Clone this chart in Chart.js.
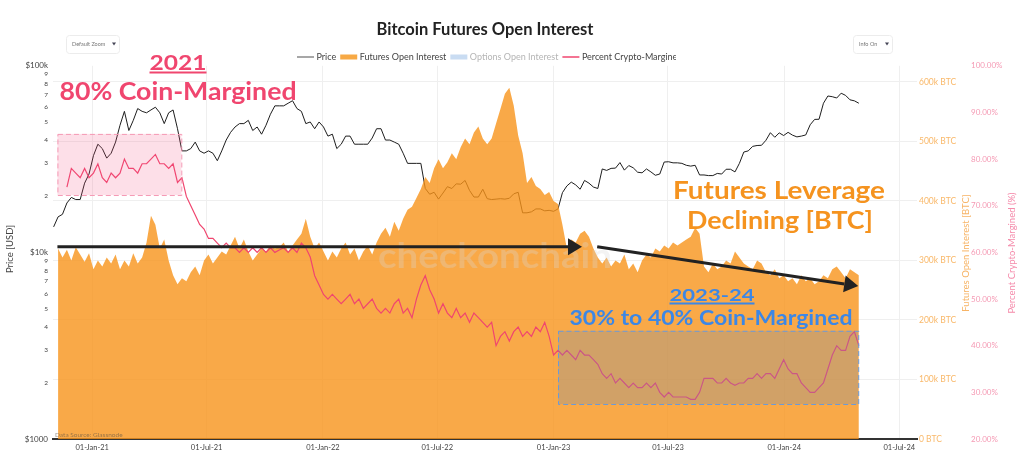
<!DOCTYPE html>
<html>
<head>
<meta charset="utf-8">
<title>Bitcoin Futures Open Interest</title>
<script src="https://cdn.jsdelivr.net/npm/chart.js@4.4.1/dist/chart.umd.min.js"></script>
<style>
  html, body { margin: 0; padding: 0; background: #fff; }
  #wrap { width: 1024px; height: 458px; }
</style>
</head>
<body>
<div id="wrap"><canvas id="chart" width="1024" height="458"></canvas></div>
<script>
// weekly samples, first one is 01-Nov-2020 (day -61 counted from 01-Jan-2021)
const START_DAY = -61;
const STEP_DAYS = 7;

// BTC price, thousands of USD
const priceKUsd = [
  13.7, 15.5, 16.0, 18.4, 19.7, 19.2, 19.2, 23.5, 26.3,
  33, 38, 36, 32, 34, 39, 48, 57, 45, 51, 59, 57, 56, 58, 60, 56, 49,
  56, 58, 46, 35, 35, 36, 39, 35, 34, 35, 34, 31, 35, 40, 44, 47, 49, 49,
  51, 45, 47, 43, 48, 55, 61, 61, 61, 63, 65, 59, 57, 49, 50, 46, 50,
  47, 42, 43, 36, 38, 42, 42, 38, 38, 38, 38, 41, 46, 46, 40, 40, 39,
  38, 34, 30, 30, 30, 30, 22, 20.5, 21, 19.3, 20.8, 22.5, 22, 23.3,
  23.2, 24.3, 21.5, 19.8, 19.8, 21.8, 19.4, 19.2, 19.3, 19.4, 19.3, 19.5, 20.6,
  21, 16.3, 16.3, 16.5, 17.1, 17.1, 16.7, 16.8,
  16.6, 17.1, 20.9, 22.7, 23.8, 23, 21.8, 24.3, 23.5, 22.4, 22, 28, 27.5,
  28.2, 28.3, 30.3, 27.6, 29.2, 28.4, 26.9, 26.7, 28, 27, 25.9, 26.3, 30.5,
  30.6, 30.2, 30.2, 30, 29.3, 29, 29.3, 26, 26, 25.8, 25.8, 26.5, 26.3,
  27.9, 27.9, 27, 30, 34.5, 35, 37, 37.4, 37.5, 39.9, 43.8, 41.4, 43.7, 42.3,
  44, 42.5, 41.6, 42, 42.6, 48.3, 51.6, 51.7, 63, 68.9, 68.3, 67.2, 71.3,
  69.4, 65.7, 64.9, 63
];

// futures open interest, thousands of BTC
const futuresOiKBtc = [
  null,
  320, 305, 318, 300, 322, 310, 298, 312, 285, 300,
  290, 305, 295, 310, 285, 300, 290, 312, 295, 305,
  330, 375, 360, 320, 335, 300, 275, 260, 270, 265,
  280, 290, 275, 300, 310, 295, 305, 315, 310, 325,
  340, 320, 335, 315, 300, 310, 320, 315, 325, 320,
  322,
  330, 315, 325, 335, 345, 370, 340, 320, 330, 315,
  300, 315, 305, 320, 330, 310, 320, 300, 315, 325,
  310, 330, 345, 355, 340, 365, 350, 370, 385, 390,
  405, 420, 440, 430, 455, 470, 455, 465, 480, 470,
  490, 505, 495, 515, 525, 505, 495, 505, 530, 555,
  580, 590, 560, 510, 480, 430, 440, 425, 420, 410,
  415, 400, 395, 360, 320, 335, 330, 345, 350, 340,
  320, 305, 295, 305, 290, 300, 295, 310, 285, 295,
  280, 300, 310, 305, 320, 315, 325, 320, 330, 325,
  330,
  335, 340, 355, 345, 290, 280, 295, 285, 290, 300,
  295, 315, 305, 295, 290, 285, 300, 295, 280, 275,
  285, 270, 275, 265, 270, 260, 275, 265, 270, 260,
  265, 275, 270, 285, 290, 280, 270, 285, 280, 275
];

// share of futures OI that is crypto-margined, %
const pctCryptoMargined = [
  null, null, null,
  74, 78, 77, 76, 78, 76, 77, 79,
  76, 75, 77, 76, 77, 80, 78, 78, 77, 79,
  79, 80, 81, 79, 79, 78, 79, 75, 76, 72,
  70, 68, 66, 65, 63, 63, 62, 61, 62, 61,
  61, 60, 61, 60, 61, 60, 61, 60, 61, 60,
  60.5,
  61, 60, 61, 60, 62, 61, 59, 55, 53, 51,
  50, 51, 50, 49, 50, 51, 49, 50, 48, 49,
  50, 48, 47, 48, 47, 49, 50, 47, 48, 46,
  50, 53, 55, 52, 50, 47, 49, 47, 46, 48,
  46, 47, 45, 47, 46, 45, 44, 45, 40, 42,
  43, 41, 43, 44, 42, 43, 42, 44, 43, 45,
  42, 38, 39, 38, 39, 38, 37, 39, 38, 38,
  37, 36, 34, 33, 34, 32, 33, 32, 31, 32,
  31, 31, 32, 31, 32, 30, 29, 30, 29, 29,
  29,
  29, 28.5, 28.5, 30, 33, 33, 33, 32, 32, 33,
  32, 31.5, 32, 32, 33, 33, 34, 33, 34, 34,
  33, 35, 37, 35, 34, 34, 32, 31, 30, 30,
  31, 32, 35, 38, 40, 39, 39, 42, 43, 40
];

const xTickDays = [0, 181, 365, 546, 730, 911, 1095, 1277];
const xTickLabels = ['01-Jan-21', '01-Jul-21', '01-Jan-22', '01-Jul-22', '01-Jan-23', '01-Jul-23', '01-Jan-24', '01-Jul-24'];
const priceTicks = [1000, 2000, 3000, 4000, 5000, 6000, 7000, 8000, 9000,
  10000, 20000, 30000, 40000, 50000, 60000, 70000, 80000, 90000, 100000];
const priceMajorLabels = { 1000: '$1000', 10000: '$10k', 100000: '$100k' };
const oiTicks = [0, 100, 200, 300, 400, 500, 600];
const pctTicks = [20, 30, 40, 50, 60, 70, 80, 90, 100];

const PINK = '#f0466f';
const FONT = 'Lato, "Open Sans", sans-serif';

// highlight boxes (x in days, y in % crypto-margined)
const boxes = [
  { x0: -55, x1: 141, y0: 72.3, y1: 85.4, fill: 'rgba(245,80,130,0.18)', stroke: '#f59ab5' },
  { x0: 737, x1: 1212, y0: 27.5, y1: 43.2, fill: 'rgba(90,140,200,0.25)', stroke: '#6b9ad8' }
];
// trend arrows (x in days, y in k BTC)
const arrows = [
  { x0: -55, y0: 323, x1: 775, y1: 323 },
  { x0: 799, y0: 323, x1: 1212, y1: 257 }
];
const notes = [
  { text: '2021', cx: 178, y: 69.5, size: 20, width: 57, color: PINK, underline: true },
  { text: '80% Coin-Margined', cx: 178, y: 100, size: 25, width: 237, color: PINK },
  { text: 'Futures Leverage', cx: 779, y: 199, size: 24.5, width: 212, color: '#f5931f' },
  { text: 'Declining [BTC]', cx: 780, y: 229, size: 24.5, width: 186, color: '#f5931f' },
  { text: '2023-24', cx: 712, y: 300.5, size: 17.5, width: 85, color: '#3c87e6', underline: true },
  { text: '30% to 40% Coin-Margined', cx: 711, y: 325, size: 20, width: 283, color: '#3c87e6' }
];

const toPoints = (arr, mult) => arr.map((v, i) => ({
  x: START_DAY + i * STEP_DAYS,
  y: v === null ? null : v * mult
}));

function fitText(ctx, n) {
  ctx.font = `bold ${n.size}px ${FONT}`;
  const w = ctx.measureText(n.text).width;
  ctx.save();
  ctx.translate(n.cx, n.y);
  ctx.scale(n.width / w, 1);
  ctx.fillStyle = n.color;
  ctx.textAlign = 'center';
  ctx.textBaseline = 'alphabetic';
  ctx.fillText(n.text, 0, 0);
  ctx.restore();
  if (n.underline) {
    ctx.fillStyle = n.color;
    ctx.fillRect(n.cx - n.width / 2, n.y + 2, n.width, 2);
  }
}

function drawArrow(ctx, x0, y0, x1, y1) {
  const ang = Math.atan2(y1 - y0, x1 - x0);
  const len = 14, half = 8.5;
  const bx = x1 - len * Math.cos(ang), by = y1 - len * Math.sin(ang);
  ctx.strokeStyle = '#222';
  ctx.lineWidth = 3;
  ctx.beginPath();
  ctx.moveTo(x0, y0);
  ctx.lineTo(bx, by);
  ctx.stroke();
  ctx.fillStyle = '#222';
  ctx.beginPath();
  ctx.moveTo(x1, y1);
  ctx.lineTo(bx + half * Math.sin(ang), by - half * Math.cos(ang));
  ctx.lineTo(bx - half * Math.sin(ang), by + half * Math.cos(ang));
  ctx.closePath();
  ctx.fill();
}

function dropdown(ctx, x, y, w, h, label) {
  ctx.strokeStyle = '#ececec';
  ctx.lineWidth = 1;
  ctx.beginPath();
  ctx.roundRect(x + 0.5, y + 0.5, w, h, 3);
  ctx.stroke();
  ctx.fillStyle = '#777';
  ctx.font = `5.5px ${FONT}`;
  ctx.textAlign = 'left';
  ctx.textBaseline = 'middle';
  ctx.fillText(label, x + 6, y + h / 2);
  ctx.fillStyle = '#445';
  ctx.beginPath();
  ctx.moveTo(x + w - 7, y + h / 2 - 1.5);
  ctx.lineTo(x + w - 3, y + h / 2 - 1.5);
  ctx.lineTo(x + w - 5, y + h / 2 + 1.5);
  ctx.closePath();
  ctx.fill();
}

function vText(ctx, text, x, y, color, size) {
  ctx.save();
  ctx.translate(x, y);
  ctx.rotate(-Math.PI / 2);
  ctx.fillStyle = color;
  ctx.font = `${size}px ${FONT}`;
  ctx.textAlign = 'center';
  ctx.textBaseline = 'middle';
  ctx.fillText(text, 0, 0);
  ctx.restore();
}

const overlay = {
  id: 'overlay',
  afterDatasetsDraw(chart) {
    const { ctx, scales } = chart;
    const xs = scales.x, yp = scales.yPct, yo = scales.yOi;
    ctx.save();
    boxes.forEach(b => {
      const l = xs.getPixelForValue(b.x0), r = xs.getPixelForValue(b.x1);
      const t = yp.getPixelForValue(b.y1), bt = yp.getPixelForValue(b.y0);
      ctx.fillStyle = b.fill;
      ctx.fillRect(l, t, r - l, bt - t);
      ctx.setLineDash([5, 3]);
      ctx.strokeStyle = b.stroke;
      ctx.lineWidth = 1;
      ctx.strokeRect(l + 0.5, t + 0.5, r - l, bt - t);
    });
    ctx.setLineDash([]);

    // faint watermark
    fitText(ctx, { text: 'checkonchain', cx: 495, y: 268, size: 34, width: 234, color: 'rgba(215,215,215,0.3)' });

    arrows.forEach(a => drawArrow(ctx,
      xs.getPixelForValue(a.x0), yo.getPixelForValue(a.y0),
      xs.getPixelForValue(a.x1), yo.getPixelForValue(a.y1)));

    notes.forEach(n => fitText(ctx, n));

    ctx.fillStyle = 'rgba(90,80,70,0.6)';
    ctx.font = `6.5px ${FONT}`;
    ctx.textAlign = 'left';
    ctx.textBaseline = 'alphabetic';
    ctx.fillText('Data Source: Glassnode', chart.chartArea.left + 2, chart.chartArea.bottom - 2);
    ctx.restore();
  },
  afterDraw(chart) {
    const ctx = chart.ctx;
    ctx.save();
    // legend
    ctx.beginPath();
    ctx.rect(0, 40, 676, 30);
    ctx.clip();
    ctx.font = `9px ${FONT}`;
    ctx.textAlign = 'left';
    ctx.textBaseline = 'middle';
    let x = 297;
    const y = 57;
    chart.data.datasets.forEach(ds => {
      if (ds.legendKind === 'line') {
        ctx.strokeStyle = ds.legendColor;
        ctx.lineWidth = 1.5;
        ctx.beginPath();
        ctx.moveTo(x, y);
        ctx.lineTo(x + 17, y);
        ctx.stroke();
      } else {
        ctx.fillStyle = ds.legendColor;
        ctx.fillRect(x, y - 2.5, 17, 5);
      }
      ctx.fillStyle = ds.hidden ? '#b5b5b5' : '#444';
      ctx.fillText(ds.label, x + 19.5, y);
      x += 19.5 + ctx.measureText(ds.label).width + 4;
    });
    ctx.restore();

    ctx.save();
    dropdown(ctx, 66, 35, 53, 18, 'Default Zoom');
    dropdown(ctx, 853, 35, 39, 18, 'Info On');
    vText(ctx, 'Price [USD]', 10, 249, '#444', 9.5);
    vText(ctx, 'Futures Open Interest [BTC]', 966, 253, '#f7b466', 9.5);
    vText(ctx, 'Percent Crypto-Margined (%)', 1012, 253, '#f58bab', 9.5);
    ctx.restore();
  }
};

Chart.defaults.font.family = FONT;

new Chart(document.getElementById('chart'), {
  type: 'line',
  data: {
    datasets: [
      {
        label: 'Price',
        data: toPoints(priceKUsd, 1000),
        yAxisID: 'yPrice',
        borderColor: '#1e1e1e',
        borderWidth: 1,
        pointRadius: 0,
        order: 3,
        legendKind: 'line',
        legendColor: '#8a8a8a'
      },
      {
        label: 'Futures Open Interest',
        data: toPoints(futuresOiKBtc, 1),
        yAxisID: 'yOi',
        backgroundColor: 'rgba(247,147,26,0.8)',
        borderColor: 'rgba(0,0,0,0)',
        borderWidth: 0,
        fill: 'origin',
        pointRadius: 0,
        order: 2,
        legendKind: 'box',
        legendColor: '#f7a945'
      },
      {
        label: 'Options Open Interest',
        data: [],
        yAxisID: 'yOi',
        hidden: true,
        pointRadius: 0,
        legendKind: 'box',
        legendColor: '#c9dcf2'
      },
      {
        label: 'Percent Crypto-Margined',
        data: toPoints(pctCryptoMargined, 1),
        yAxisID: 'yPct',
        borderColor: PINK,
        borderWidth: 1.2,
        pointRadius: 0,
        order: 1,
        legendKind: 'line',
        legendColor: PINK
      }
    ]
  },
  options: {
    responsive: false,
    devicePixelRatio: 1,
    animation: false,
    layout: { padding: 0 },
    plugins: {
      legend: { display: false },
      tooltip: { enabled: false },
      title: {
        display: true,
        text: 'Bitcoin Futures Open Interest',
        fullSize: false,
        color: '#222',
        font: { size: 16.5, weight: 'bold' },
        padding: { top: 20, bottom: 26 }
      }
    },
    scales: {
      x: {
        type: 'linear',
        min: -62,
        max: 1305,
        afterBuildTicks: s => { s.ticks = xTickDays.map(v => ({ value: v })); },
        afterFit: s => { s.height = 19; },
        ticks: {
          callback: v => xTickLabels[xTickDays.indexOf(v)] || '',
          autoSkip: false,
          maxRotation: 0,
          padding: 4,
          color: '#444',
          font: { size: 7.5 }
        },
        grid: { color: '#efefef', drawTicks: false },
        border: { display: true, color: '#333', width: 2 }
      },
      yPrice: {
        type: 'logarithmic',
        position: 'left',
        min: 1000,
        max: 100000,
        afterBuildTicks: s => { s.ticks = priceTicks.map(v => ({ value: v })); },
        afterFit: s => { s.width = 53; },
        ticks: {
          autoSkip: false,
          padding: 5,
          color: '#444',
          callback: v => priceMajorLabels[v] || String(v).charAt(0),
          font: c => ({ size: c.tick && priceMajorLabels[c.tick.value] ? 8 : 6.5 })
        },
        grid: { display: false, drawTicks: false },
        border: { display: false }
      },
      yOi: {
        type: 'linear',
        position: 'right',
        min: 0,
        max: 627,
        afterBuildTicks: s => { s.ticks = oiTicks.map(v => ({ value: v })); },
        afterFit: s => { s.width = 52; },
        ticks: {
          autoSkip: false,
          padding: 2,
          color: '#f9b96b',
          font: { size: 8.5 },
          callback: v => v === 0 ? '0 BTC' : v + 'k BTC'
        },
        grid: { color: '#efefef', drawTicks: false },
        border: { display: false }
      },
      yPct: {
        type: 'linear',
        position: 'right',
        min: 20,
        max: 100,
        afterBuildTicks: s => { s.ticks = pctTicks.map(v => ({ value: v })); },
        afterFit: s => { s.width = 55; },
        ticks: {
          autoSkip: false,
          padding: 2,
          color: '#f59ab4',
          font: { size: 8 },
          callback: v => v.toFixed(2) + '%'
        },
        grid: { display: false, drawTicks: false },
        border: { display: false }
      }
    }
  },
  plugins: [overlay]
});
</script>
</body>
</html>
